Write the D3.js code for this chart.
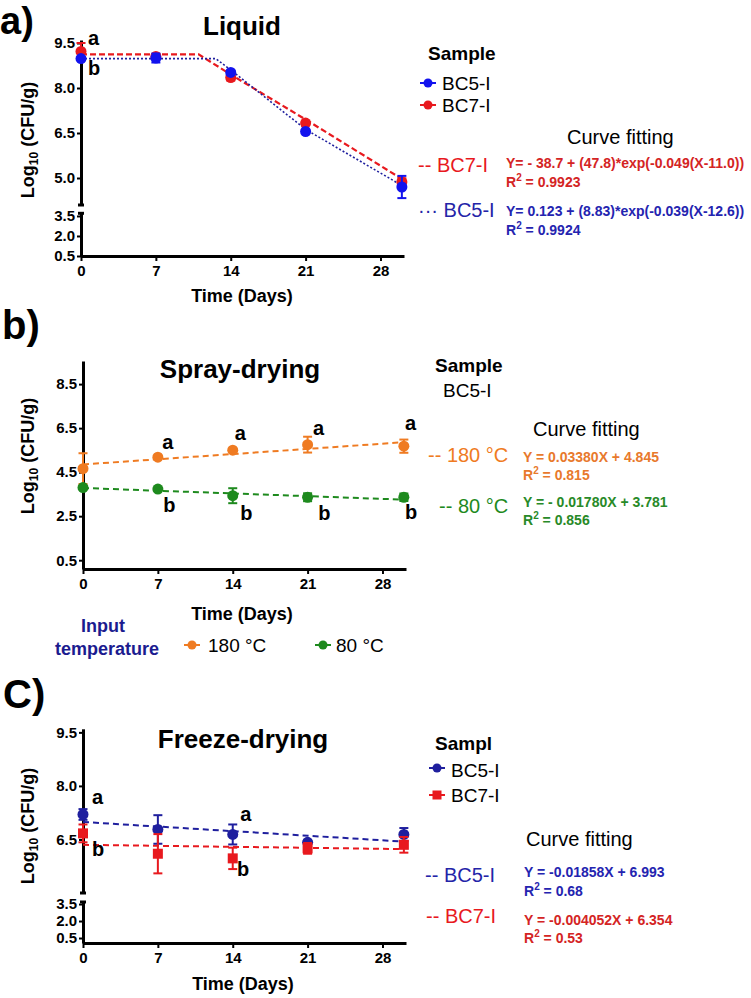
<!DOCTYPE html>
<html>
<head>
<meta charset="utf-8">
<script src="https://cdn.jsdelivr.net/npm/d3@7"></script>
<style>
  body { margin: 0; background: #fff; }
  text { font-family: Arial, "Liberation Sans", sans-serif; }
</style>
</head>
<body>
<script>
// values (Log10 CFU/g vs storage day)
var days = [0, 7, 14, 21, 30];
var xTicks = [0, 7, 14, 21, 28];

// a) Liquid
var liquidBC5 = [8.98, 9.0, 8.52, 6.55, 4.7];
var liquidBC5Err = [0.04, 0.15, 0.06, 0.05, 0.37];
var liquidBC7 = [9.22, 9.05, 8.35, 6.83, 4.87];
var liquidBC7Err = [0.28, 0.08, 0.1, 0.05, 0.12];
var liquidFitDays5 = [0, 12.6, 14, 21, 30];
var liquidFitBC5 = [8.98, 8.98, 8.6, 6.62, 4.75];
var liquidFitDays7 = [0, 11, 14, 21, 30];
var liquidFitBC7 = [9.12, 9.12, 8.45, 6.95, 4.97];
var liquidTicksUp = [5.0, 6.5, 8.0, 9.5];
var liquidTicksLow = [0.5, 2.0, 3.5];
var liquidLetters = [{t: 'a', day: 0.65, v: 9.43}, {t: 'b', day: 0.65, v: 8.43}];

// b) Spray-drying, sample BC5-I
var spray180 = [4.66, 5.18, 5.5, 5.75, 5.68];
var spray180Err = [0.7, 0.05, 0.06, 0.36, 0.3];
var spray80 = [3.8, 3.73, 3.43, 3.36, 3.36];
var spray80Err = [0.05, 0.05, 0.34, 0.18, 0.17];
var sprayFitDays = [0, 30];
var sprayFit180 = [4.85, 5.86];
var sprayFit80 = [3.78, 3.25];
var sprayTicks = [0.5, 2.5, 4.5, 6.5, 8.5];
var sprayLetters = [
  {t: 'a', day: 7.4, v: 5.55}, {t: 'a', day: 14.2, v: 5.95},
  {t: 'a', day: 21.5, v: 6.18}, {t: 'a', day: 30.1, v: 6.41},
  {t: 'b', day: 7.5, v: 2.68}, {t: 'b', day: 14.7, v: 2.32},
  {t: 'b', day: 22.0, v: 2.32}, {t: 'b', day: 30.1, v: 2.36}
];

// c) Freeze-drying
var freezeBC5 = [7.2, 6.78, 6.64, 6.42, 6.64];
var freezeBC5Err = [0.15, 0.4, 0.28, 0.05, 0.18];
var freezeBC7 = [6.67, 6.1, 5.97, 6.25, 6.35];
var freezeBC7Err = [0.25, 0.55, 0.3, 0.15, 0.22];
var freezeFitDays = [0, 30];
var freezeFitBC5 = [6.99, 6.44];
var freezeFitBC7 = [6.35, 6.23];
var freezeTicksUp = [6.5, 8.0, 9.5];
var freezeTicksLow = [0.5, 2.0, 3.5];
var freezeLetters = [
  {t: 'a', day: 0.84, v: 7.48}, {t: 'b', day: 0.84, v: 6.05},
  {t: 'a', day: 14.7, v: 7.03}, {t: 'b', day: 14.4, v: 5.49}
];

var RED = '#e8191e', BLUE = '#1212ee', NAVY = '#1f1f9e',
    ORANGE = '#ef7b22', GREEN = '#1e8a1e', INPUT = '#1b1b8f';

var svg = d3.select('body').append('svg')
  .attr('width', 751).attr('height', 998);

function styleAxis(g) {
  g.select('.domain').attr('stroke', '#000').attr('stroke-width', 3);
  g.selectAll('.tick line').attr('stroke', '#000').attr('stroke-width', 2);
  g.selectAll('.tick text')
    .attr('font-size', 15).attr('font-weight', 'bold')
    .attr('font-family', 'Arial, "Liberation Sans", sans-serif')
    .attr('fill', '#000');
}

function yAxis(x0, scale, ticks) {
  var g = svg.append('g').attr('transform', 'translate(' + x0 + ',0)')
    .call(d3.axisLeft(scale).tickValues(ticks).tickFormat(d3.format('.1f'))
      .tickSize(4).tickPadding(2).tickSizeOuter(0));
  styleAxis(g);
  return g;
}

function xAxis(y0, scale) {
  var g = svg.append('g').attr('transform', 'translate(0,' + y0 + ')')
    .call(d3.axisBottom(scale).tickValues(xTicks).tickSize(5).tickPadding(4).tickSizeOuter(0));
  styleAxis(g);
  return g;
}

function breakCap(x0, y0) {
  svg.append('line').attr('x1', x0 - 3).attr('x2', x0 + 3)
    .attr('y1', y0).attr('y2', y0).attr('stroke', '#000').attr('stroke-width', 3);
}

function fitLine(x, y, dx, dy, color, dash, w) {
  var line = d3.line().x(function (d) { return x(d[0]); }).y(function (d) { return y(d[1]); });
  svg.append('path').datum(d3.zip(dx, dy))
    .attr('d', line).attr('fill', 'none')
    .attr('stroke', color).attr('stroke-width', w || 2).attr('stroke-dasharray', dash);
}

function series(x, y, vals, errs, color, shape) {
  var g = svg.append('g');
  var rows = d3.zip(days, vals, errs);
  rows.forEach(function (r) {
    var cx = x(r[0]), top = y(r[1] + r[2]), bot = y(r[1] - r[2]);
    g.append('line').attr('x1', cx).attr('x2', cx).attr('y1', top).attr('y2', bot)
      .attr('stroke', color).attr('stroke-width', 2);
    [top, bot].forEach(function (yy) {
      g.append('line').attr('x1', cx - 4.5).attr('x2', cx + 4.5).attr('y1', yy).attr('y2', yy)
        .attr('stroke', color).attr('stroke-width', 2);
    });
  });
  if (shape === 'square') {
    g.selectAll('rect.pt').data(rows).enter().append('rect')
      .attr('x', function (d) { return x(d[0]) - 5; })
      .attr('y', function (d) { return y(d[1]) - 5; })
      .attr('width', 10).attr('height', 10).attr('fill', color);
  } else {
    g.selectAll('circle.pt').data(rows).enter().append('circle')
      .attr('cx', function (d) { return x(d[0]); })
      .attr('cy', function (d) { return y(d[1]); })
      .attr('r', 5.5).attr('fill', color);
  }
}

function letters(x, y, list) {
  svg.selectAll(null).data(list).enter().append('text')
    .attr('x', function (d) { return x(d.day); })
    .attr('y', function (d) { return y(d.v); })
    .attr('font-size', 20).attr('font-weight', 'bold').text(function (d) { return d.t; });
}

function label(x, y, str, opts) {
  opts = opts || {};
  return svg.append('text').attr('x', x).attr('y', y)
    .attr('font-size', opts.size || 19)
    .attr('font-weight', opts.bold ? 'bold' : 'normal')
    .attr('fill', opts.color || '#000')
    .attr('text-anchor', opts.anchor || 'start')
    .text(str);
}

function yTitle(cx, cy) {
  var t = svg.append('text').attr('transform', 'translate(' + cx + ',' + cy + ') rotate(-90)')
    .attr('text-anchor', 'middle').attr('font-size', 18).attr('font-weight', 'bold');
  t.append('tspan').text('Log');
  t.append('tspan').attr('font-size', 12).attr('dy', 4).text('10');
  t.append('tspan').attr('dy', -4).text(' (CFU/g)');
}

function rSquared(x, y, val, color) {
  var t = svg.append('text').attr('x', x).attr('y', y)
    .attr('font-size', 14).attr('font-weight', 'bold').attr('fill', color);
  t.append('tspan').text('R');
  t.append('tspan').attr('font-size', 10).attr('dy', -6).text('2');
  t.append('tspan').attr('dy', 6).text(' = ' + val);
}

function legendMark(cx, cy, color, shape) {
  svg.append('line').attr('x1', cx - 8).attr('x2', cx + 8).attr('y1', cy).attr('y2', cy)
    .attr('stroke', color).attr('stroke-width', 2);
  if (shape === 'square') {
    svg.append('rect').attr('x', cx - 4.5).attr('y', cy - 4.5).attr('width', 9).attr('height', 9).attr('fill', color);
  } else {
    svg.append('circle').attr('cx', cx).attr('cy', cy).attr('r', 4.5).attr('fill', color);
  }
}

// ---------------- a) Liquid ----------------
var xA = d3.scaleLinear().domain([0, 30.2]).range([81, 404]);
var yAUp = d3.scaleLinear().domain([4.1, 9.6]).range([205, 40]);
var yALow = d3.scaleLinear().domain([0.5, 3.7]).range([256, 213.3]);

label(0, 34, 'a)', {size: 38, bold: true});
label(242, 35, 'Liquid', {size: 26, bold: true, anchor: 'middle'});
yAxis(81, yAUp, liquidTicksUp);
yAxis(81, yALow, liquidTicksLow);
breakCap(81, 205); breakCap(81, 213.3);
xAxis(256, xA);
yTitle(34, 140);
label(242, 302, 'Time (Days)', {size: 18, bold: true, anchor: 'middle'});

fitLine(xA, yAUp, liquidFitDays7, liquidFitBC7, RED, '6,3', 2.2);
fitLine(xA, yAUp, liquidFitDays5, liquidFitBC5, NAVY, '2,2', 1.6);
series(xA, yAUp, liquidBC7, liquidBC7Err, RED, 'circle');
series(xA, yAUp, liquidBC5, liquidBC5Err, BLUE, 'circle');
letters(xA, yAUp, liquidLetters);

label(428, 60, 'Sample', {bold: true});
legendMark(428, 83, BLUE); label(442, 90, 'BC5-I');
legendMark(428, 105, RED); label(442, 112, 'BC7-I');
label(567, 144, 'Curve fitting', {size: 20});
label(418, 172, '-- BC7-I', {size: 20, color: RED});
label(506, 168, 'Y= - 38.7 + (47.8)*exp(-0.049(X-11.0))', {size: 14, bold: true, color: '#d42424'});
rSquared(506, 187, '0.9923', '#d42424');
label(418, 217, '\u00b7\u00b7\u00b7 BC5-I', {size: 20, color: '#2424a8'});
label(506, 216, 'Y= 0.123 + (8.83)*exp(-0.039(X-12.6))', {size: 14, bold: true, color: '#2424b0'});
rSquared(506, 235, '0.9924', '#2424b0');

// ---------------- b) Spray-drying ----------------
var xB = d3.scaleLinear().domain([0, 30.2]).range([83, 406]);
var yB = d3.scaleLinear().domain([0.1, 9.55]).range([569, 361]);

label(2, 339, 'b)', {size: 40, bold: true});
label(240, 378, 'Spray-drying', {size: 26, bold: true, anchor: 'middle'});
yAxis(83, yB, sprayTicks);
xAxis(569, xB);
yTitle(34, 456);
label(242, 620, 'Time (Days)', {size: 18, bold: true, anchor: 'middle'});

fitLine(xB, yB, sprayFitDays, sprayFit180, ORANGE, '6,4', 2);
fitLine(xB, yB, sprayFitDays, sprayFit80, GREEN, '6,4', 2);
series(xB, yB, spray180, spray180Err, ORANGE, 'circle');
series(xB, yB, spray80, spray80Err, GREEN, 'circle');
letters(xB, yB, sprayLetters);

label(103, 632, 'Input', {size: 18, bold: true, color: INPUT, anchor: 'middle'});
label(107, 655, 'temperature', {size: 18, bold: true, color: INPUT, anchor: 'middle'});
legendMark(192, 645, ORANGE); label(208, 652, '180 \u00b0C');
legendMark(323, 645, GREEN); label(336, 652, '80 \u00b0C');

label(435, 372, 'Sample', {bold: true});
label(443, 397, 'BC5-I');
label(533, 436, 'Curve fitting', {size: 20});
label(428, 462, '-- 180 \u00b0C', {size: 20, color: ORANGE});
label(523, 462, 'Y = 0.03380X + 4.845', {size: 14, bold: true, color: '#e8792c'});
rSquared(523, 480, '0.815', '#e8792c');
label(439, 513, '-- 80 \u00b0C', {size: 20, color: GREEN});
label(523, 507, 'Y = - 0.01780X + 3.781', {size: 14, bold: true, color: '#288a28'});
rSquared(523, 525, '0.856', '#288a28');

// ---------------- c) Freeze-drying ----------------
var xC = d3.scaleLinear().domain([0, 30.2]).range([83, 406]);
var yCUp = d3.scaleLinear().domain([5.0, 9.6]).range([893, 728.8]);
var yCLow = d3.scaleLinear().domain([0.06, 3.68]).range([943, 902]);

label(3, 708, 'C)', {size: 40, bold: true});
label(243, 748, 'Freeze-drying', {size: 26, bold: true, anchor: 'middle'});
yAxis(83, yCUp, freezeTicksUp);
yAxis(83, yCLow, freezeTicksLow);
breakCap(83, 893); breakCap(83, 902);
xAxis(943, xC);
yTitle(34, 826);
label(243, 990, 'Time (Days)', {size: 18, bold: true, anchor: 'middle'});

fitLine(xC, yCUp, freezeFitDays, freezeFitBC5, NAVY, '6,4', 2);
fitLine(xC, yCUp, freezeFitDays, freezeFitBC7, RED, '6,4', 2);
series(xC, yCUp, freezeBC5, freezeBC5Err, NAVY, 'circle');
series(xC, yCUp, freezeBC7, freezeBC7Err, RED, 'square');
letters(xC, yCUp, freezeLetters);

label(435, 750, 'Sampl', {bold: true});
legendMark(437, 768, NAVY); label(451, 777, 'BC5-I');
legendMark(437, 795, RED, 'square'); label(451, 802, 'BC7-I');
label(526, 846, 'Curve fitting', {size: 20});
label(425, 882, '-- BC5-I', {size: 20, color: '#2424a8'});
label(524, 877, 'Y = -0.01858X + 6.993', {size: 14, bold: true, color: '#2424b0'});
rSquared(524, 896, '0.68', '#2424b0');
label(426, 923, '-- BC7-I', {size: 20, color: RED});
label(524, 925, 'Y = -0.004052X + 6.354', {size: 14, bold: true, color: '#d42424'});
rSquared(524, 943, '0.53', '#d42424');
</script>
</body>
</html>
